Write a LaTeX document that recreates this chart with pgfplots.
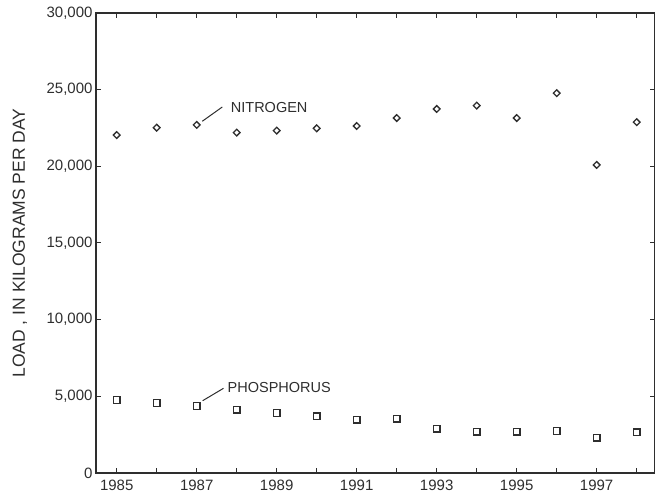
\documentclass[border=0pt]{standalone}
\usepackage{fontspec}
\setmainfont{Liberation Sans}
\usepackage{pgfplots}
\pgfplotsset{compat=1.18}
\definecolor{ink}{gray}{0.18}
\begin{document}
\begin{tikzpicture}[x=1bp,y=1bp]
\useasboundingbox (-96,-22) rectangle (559,473);
\begin{axis}[
  at={(0,0)}, anchor=south west,
  scale only axis, width=558.5bp, height=460bp,
  xmin=1984.4825, xmax=1998.445,
  ymin=0, ymax=30000,
  xtick={1985,...,1998},
  xticklabels={1985,,1987,,1989,,1991,,1993,,1995,,1997,},
  ytick={0,5000,10000,15000,20000,25000,30000},
  scaled y ticks=false,
  tick align=inside,
  major tick length=5bp,
  tick style={ink, line width=1bp},
  axis line style={ink, line width=1.1bp},
  /pgf/number format/assume math mode=true,
  /pgf/number format/1000 sep={,},
  tick label style={font=\fontsize{15bp}{17bp}\selectfont, text=ink},
  xticklabel style={yshift=-3.5bp},
  ylabel={LOAD , IN KILOGRAMS PER DAY},
  every axis y label/.style={at={(axis description cs:-0.1361,0.5)}, rotate=90, anchor=center, font=\fontsize{17.5bp}{20bp}\selectfont, text=ink},
  clip=false,
]
\addplot[only marks, mark=square, mark size=2.37bp, mark options={rotate=45, ink, line width=1.3bp}] coordinates {
 (1985,22040) (1986,22520) (1987,22700) (1988,22200) (1989,22330)
 (1990,22480) (1991,22630) (1992,23150) (1993,23740) (1994,23960)
 (1995,23150) (1996,24770) (1997,20090) (1998,22880)};
\addplot[only marks, mark=square, mark size=3.35bp, mark options={ink, line width=1.3bp}] coordinates {
 (1985,4760) (1986,4566) (1987,4370) (1988,4130) (1989,3913)
 (1990,3696) (1991,3478) (1992,3543) (1993,2891) (1994,2696)
 (1995,2696) (1996,2740) (1997,2304) (1998,2652)};
\draw[ink, line width=1bp] (axis cs:1987.14,22940) -- (axis cs:1987.64,23870);
\draw[ink, line width=1bp] (axis cs:1987.15,4716) -- (axis cs:1987.67,5524);
\node[anchor=base west, inner sep=0pt, text=ink, font=\fontsize{14.5bp}{17bp}\selectfont] at (axis cs:1987.85,23498) {NITROGEN};
\node[anchor=base west, inner sep=0pt, text=ink, font=\fontsize{14.5bp}{17bp}\selectfont] at (axis cs:1987.77,5237) {PHOSPHORUS};
\end{axis}
\end{tikzpicture}
\end{document}
